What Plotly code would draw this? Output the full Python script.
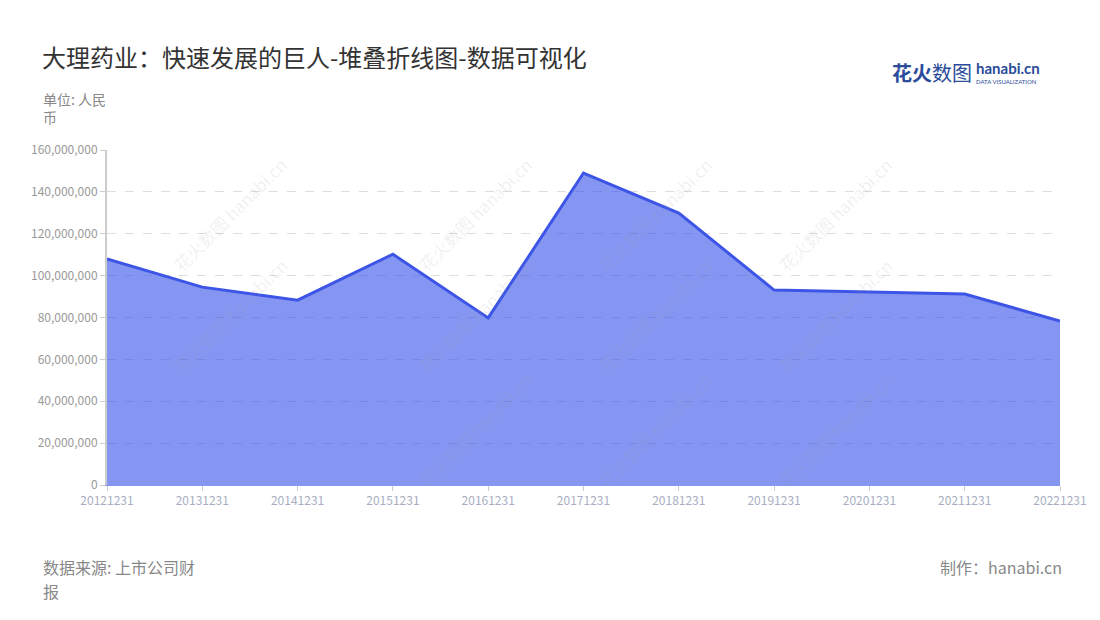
import plotly.graph_objects as go

dates = ["20121231", "20131231", "20141231", "20151231", "20161231", "20171231",
         "20181231", "20191231", "20201231", "20211231", "20221231"]
values = [108000000, 94500000, 88300000, 110200000, 79800000, 149000000,
          129900000, 93100000, 92200000, 91200000, 78300000]
y_ticks = [0, 20000000, 40000000, 60000000, 80000000, 100000000, 120000000, 140000000, 160000000]

FONT = "Noto Sans CJK SC"

# plot area in page pixels (page has an 8px body margin)
PL, PR, PT, PB = 107, 1060, 150, 485
PW, PH = PR - PL, PB - PT


def px(x):
    return (x - PL) / PW


def py(y):
    return 1 - (y - PT) / PH


fig = go.Figure()
fig.add_trace(go.Scatter(
    x=dates, y=values, mode="lines", fill="tozeroy",
    line=dict(color="#3D55E6", width=3),
    fillcolor="rgba(52,80,233,0.6)",
    hoverinfo="x+y",
))

# faint watermarks
wm_positions = [(165, 150), (410, 150), (655, 150), (900, 150),
                (165, 315), (410, 315), (655, 315), (900, 315),
                (410, 495), (655, 495), (900, 495)]
annotations = []
for (wx, wy) in wm_positions:
    annotations.append(dict(
        text="花火数图 hanabi.cn", xref="paper", yref="paper",
        x=px(wx), y=py(wy),
        showarrow=False, textangle=-45,
        font=dict(family=FONT, size=17, color="rgba(150,150,150,0.14)"),
    ))


def label(text, x, y, size, color="#888888", xanchor="left", font=FONT):
    return dict(text=text, xref="paper", yref="paper", x=px(x), y=py(y),
                xanchor=xanchor, yanchor="middle", showarrow=False, borderpad=0,
                align="left", font=dict(family=font, size=size, color=color))


fig.update_layout(
    width=1100, height=620,
    margin=dict(l=PL - 8, r=1100 + 8 - PR, t=PT - 8, b=620 + 8 - PB),
    paper_bgcolor="white", plot_bgcolor="white",
    showlegend=False,
    font=dict(family=FONT),
    xaxis=dict(
        type="category", range=[0, len(dates) - 1],
        showgrid=False, showline=True, linecolor="#8596F2", linewidth=1,
        ticks="outside", ticklen=5, tickcolor="#cccccc",
        tickfont=dict(family=FONT, size=12, color="#a8aec2"),
        zeroline=False,
    ),
    yaxis=dict(
        range=[0, 160000000], tickvals=y_ticks, tickformat=",d",
        showgrid=True, gridcolor="#dddddd", griddash="dash", gridwidth=1,
        showline=True, linecolor="#cccccc", linewidth=2,
        ticks="outside", ticklen=5, tickcolor="#cccccc",
        tickfont=dict(family=FONT, size=12, color="#999999"),
        zeroline=False,
    ),
    annotations=annotations + [
        label("大理药业：快速发展的巨人-堆叠折线图-数据可视化", 41, 56, 24, "#333333"),
        label("单位: 人民<br>币", 42, 108, 14),
        label("数据来源: 上市公司财", 42, 567, 16),
        label("报", 42, 591, 16),
        label("制作：hanabi.cn", 1063, 567, 16, xanchor="right"),
        label("<b>花火</b>数图", 891, 72, 20, "#2b4c9a"),
        label("<b>hanabi.cn</b>", 975, 68, 15, "#2b4c9a", font="Lato"),
        label("DATA VISUALIZATION", 975, 81, 6, "#2b4c9a", font="Lato"),
    ],
)

fig.write_html("out.html")
